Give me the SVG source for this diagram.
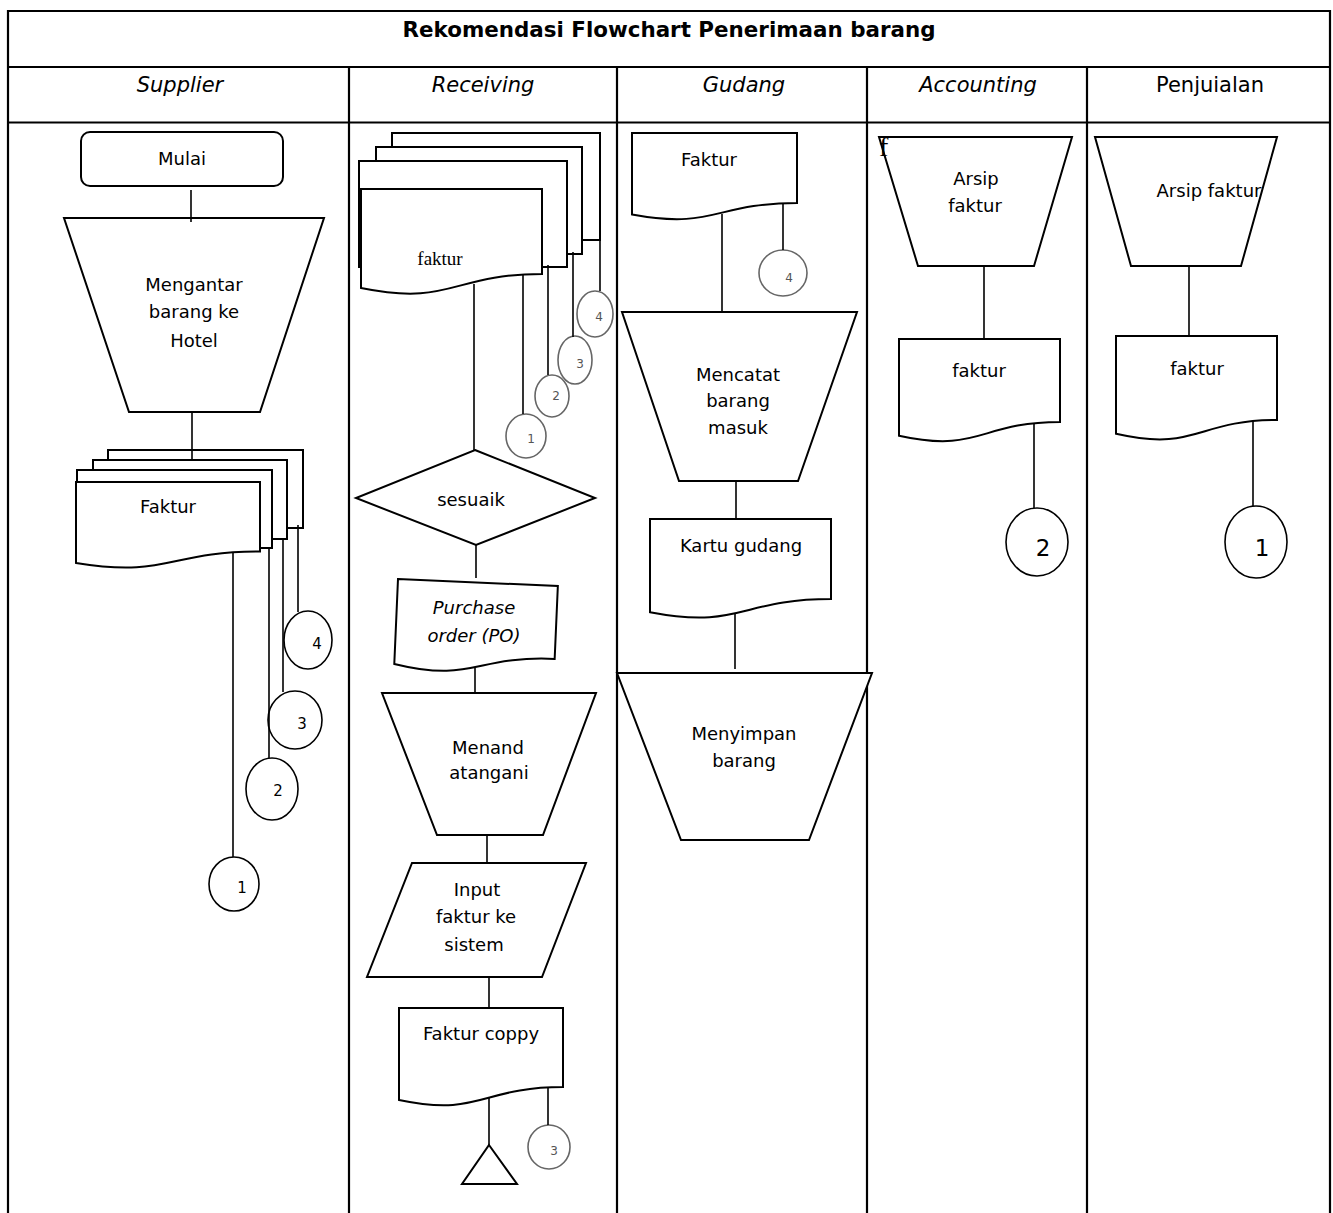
<svg xmlns="http://www.w3.org/2000/svg" width="1333" height="1213" viewBox="0 0 1333 1213">
<style>
text{font-family:"DejaVu Sans","Verdana",sans-serif;fill:#000}
.t{font-size:18px;text-anchor:middle}
.h{font-size:21px;text-anchor:middle}
.i{font-style:italic}
.grid{stroke:#000;stroke-width:2.2;fill:none}
.s{fill:#fff;stroke:#000;stroke-width:2}
.c{stroke:#000;stroke-width:1.6;fill:none}
.ck{fill:#fff;stroke:#000;stroke-width:1.6}
.cg{fill:#fff;stroke:#666;stroke-width:1.6}
.ng{font-size:12px;fill:#555;text-anchor:middle}
.nk{font-size:15px;text-anchor:middle}
.nb{font-size:23px;text-anchor:middle}
.serif{font-family:"Liberation Serif","Times New Roman",serif}
</style>

<g id="table">
  <path class="grid" d="M8,1213 V11 H1330 V1213"/>
  <line class="grid" x1="8" y1="67" x2="1330" y2="67"/>
  <line class="grid" x1="8" y1="122.5" x2="1330" y2="122.5"/>
  <line class="grid" x1="349" y1="67" x2="349" y2="1213"/>
  <line class="grid" x1="617" y1="67" x2="617" y2="1213"/>
  <line class="grid" x1="867" y1="67" x2="867" y2="1213"/>
  <line class="grid" x1="1087" y1="67" x2="1087" y2="1213"/>
  <text x="669" y="37" font-size="21.5" font-weight="bold" text-anchor="middle" textLength="533" lengthAdjust="spacingAndGlyphs">Rekomendasi Flowchart Penerimaan barang</text>
  <text class="h i" x="180" y="92">Supplier</text>
  <text class="h i" x="483" y="92">Receiving</text>
  <text class="h i" x="744" y="92">Gudang</text>
  <text class="h i" x="978" y="92">Accounting</text>
  <text class="h" x="1210" y="92">Penjuialan</text>
</g>

<!-- Supplier column -->
<g id="mulai">
  <rect class="s" x="81" y="132" width="202" height="54" rx="9"/>
  <text class="t" x="182" y="165">Mulai</text>
</g>
<g id="mengantar">
  <path class="s" d="M64,218 H324 L260,412 H129 Z"/>
  <text class="t" x="194" y="291">Mengantar</text>
  <text class="t" x="194" y="318">barang ke</text>
  <text class="t" x="194" y="347">Hotel</text>
</g>
<g id="faktur-supplier">
  <rect class="s" x="108" y="450" width="195" height="78"/>
  <rect class="s" x="93" y="460" width="194" height="79"/>
  <rect class="s" x="77" y="470" width="195" height="78"/>
  <path class="s" d="M76,482 H260 V551.5 C168,551.5 168,578 76,563 Z"/>
  <text class="t" x="168" y="513">Faktur</text>
</g>
<g id="sup-c1"><ellipse class="ck" cx="234" cy="884" rx="25" ry="27"/><text class="nk" x="242" y="893">1</text></g>
<g id="sup-c2"><ellipse class="ck" cx="272" cy="789" rx="26" ry="31"/><text class="nk" x="278" y="796">2</text></g>
<g id="sup-c3"><ellipse class="ck" cx="295" cy="720" rx="27" ry="29"/><text class="nk" x="302" y="729">3</text></g>
<g id="sup-c4"><ellipse class="ck" cx="308" cy="640" rx="24" ry="29"/><text class="nk" x="317" y="649">4</text></g>

<!-- Receiving column -->
<g id="faktur-receiving">
  <rect class="s" x="392" y="133" width="208" height="107"/>
  <rect class="s" x="376" y="147" width="206" height="107"/>
  <rect class="s" x="359" y="161" width="208" height="106"/>
  <path class="s" d="M361,189 H542 V274 C451.5,274 451.5,306.4 361,288 Z"/>
  <text class="serif" x="440" y="265" font-size="19" text-anchor="middle">faktur</text>
</g>
<g id="rec-c1"><ellipse class="cg" cx="526" cy="436" rx="20" ry="22"/><text class="ng" x="531" y="443">1</text></g>
<g id="rec-c2"><ellipse class="cg" cx="552" cy="396" rx="17" ry="21"/><text class="ng" x="556" y="400">2</text></g>
<g id="rec-c3"><ellipse class="cg" cx="575" cy="360" rx="17" ry="24"/><text class="ng" x="580" y="368">3</text></g>
<g id="rec-c4"><ellipse class="cg" cx="595" cy="314" rx="18" ry="23"/><text class="ng" x="599" y="321">4</text></g>
<g id="sesuaik">
  <path class="s" d="M475,450 L595,498 L476,545 L356,498 Z"/>
  <text class="t" x="471" y="506">sesuaik</text>
</g>
<g id="po">
  <path class="s" transform="translate(398,579) rotate(2.5)" d="M0,0 H160 V73 C80,73 80,101 0,85 Z"/>
  <text class="t i" x="474" y="614">Purchase</text>
  <text class="t i" x="474" y="642">order (PO)</text>
</g>
<g id="menandatangani">
  <path class="s" d="M382,693 H596 L543,835 H437 Z"/>
  <text class="t" x="488" y="754">Menand</text>
  <text class="t" x="489" y="779">atangani</text>
</g>
<g id="input">
  <path class="s" d="M412,863 H586 L542,977 H367 Z"/>
  <text class="t" x="477" y="896">Input</text>
  <text class="t" x="476" y="923">faktur ke</text>
  <text class="t" x="474" y="951">sistem</text>
</g>
<g id="faktur-coppy">
  <path class="s" d="M399,1008 H563 V1087 C481,1087 481,1117.1 399,1100 Z"/>
  <text class="t" x="481" y="1040">Faktur coppy</text>
</g>
<g id="arsip-triangle">
  <path class="s" d="M489,1145 L517,1184 H462 Z"/>
</g>
<g id="rec-c3b"><ellipse class="cg" cx="549" cy="1147" rx="21" ry="22"/><text class="ng" x="554" y="1155" font-size="11">3</text></g>

<!-- Gudang column -->
<g id="faktur-gudang">
  <path class="s" d="M632,133 H797 V203 C714.5,203 714.5,229.7 632,214.5 Z"/>
  <text class="t" x="709" y="166">Faktur</text>
</g>
<g id="gud-c4"><ellipse class="cg" cx="783" cy="273" rx="24" ry="23"/><text class="ng" x="789" y="282" font-size="11">4</text></g>
<g id="mencatat">
  <path class="s" d="M622,312 H857 L798,481 H679 Z"/>
  <text class="t" x="738" y="381">Mencatat</text>
  <text class="t" x="738" y="407">barang</text>
  <text class="t" x="738" y="434">masuk</text>
</g>
<g id="kartu-gudang">
  <path class="s" d="M650,519 H831 V599 C740.5,599 740.5,629.5 650,612.2 Z"/>
  <text class="t" x="741" y="552">Kartu gudang</text>
</g>
<g id="menyimpan">
  <path class="s" d="M617,673 H872 L809,840 H681 Z"/>
  <text class="t" x="744" y="740">Menyimpan</text>
  <text class="t" x="744" y="767">barang</text>
</g>

<!-- Accounting column -->
<g id="arsip-accounting">
  <path class="s" d="M879,137 H1072 L1034,266 H918 Z"/>
  <text class="serif" x="879" y="156" font-size="28">f</text>
  <text class="t" x="976" y="185">Arsip</text>
  <text class="t" x="975" y="212">faktur</text>
</g>
<g id="faktur-accounting">
  <path class="s" d="M899,339 H1060 V422 C979.5,422 979.5,453.6 899,435.7 Z"/>
  <text class="t" x="979" y="377">faktur</text>
</g>
<g id="acc-c2"><ellipse class="ck" cx="1037" cy="542" rx="31" ry="34"/><text class="nb" x="1043" y="556">2</text></g>

<!-- Penjualan column -->
<g id="arsip-penjualan">
  <path class="s" d="M1095,137 H1277 L1241,266 H1131 Z"/>
  <text class="t" x="1209" y="197">Arsip faktur</text>
</g>
<g id="faktur-penjualan">
  <path class="s" d="M1116,336 H1277 V420 C1196.5,420 1196.5,452 1116,433.8 Z"/>
  <text class="t" x="1197" y="375">faktur</text>
</g>
<g id="pen-c1"><ellipse class="ck" cx="1256" cy="542" rx="31" ry="36"/><text class="nb" x="1262" y="556">1</text></g>

<g id="connectors">
  <line class="c" x1="191" y1="190" x2="191" y2="222"/>
  <line class="c" x1="192" y1="412" x2="192" y2="459"/>
  <line class="c" x1="233" y1="552" x2="233" y2="857"/>
  <line class="c" x1="269" y1="548" x2="269" y2="758"/>
  <line class="c" x1="283" y1="539" x2="283" y2="692"/>
  <line class="c" x1="298" y1="525" x2="298" y2="612"/>

  <line class="c" x1="474" y1="284" x2="474" y2="450"/>
  <line class="c" x1="523" y1="274" x2="523" y2="414"/>
  <line class="c" x1="548" y1="265" x2="548" y2="375"/>
  <line class="c" x1="573" y1="252" x2="573" y2="337"/>
  <line class="c" x1="600" y1="240" x2="600" y2="291"/>
  <line class="c" x1="476" y1="545" x2="476" y2="578"/>
  <line class="c" x1="475" y1="668" x2="475" y2="693"/>
  <line class="c" x1="487" y1="835" x2="487" y2="863"/>
  <line class="c" x1="489" y1="977" x2="489" y2="1008"/>
  <line class="c" x1="489" y1="1097" x2="489" y2="1145"/>
  <line class="c" x1="548" y1="1087" x2="548" y2="1125"/>

  <line class="c" x1="722" y1="214" x2="722" y2="312"/>
  <line class="c" x1="783" y1="203" x2="783" y2="250"/>
  <line class="c" x1="736" y1="481" x2="736" y2="519"/>
  <line class="c" x1="735" y1="614" x2="735" y2="669"/>

  <line class="c" x1="984" y1="266" x2="984" y2="340"/>
  <line class="c" x1="1034" y1="423" x2="1034" y2="508"/>
  <line class="c" x1="1189" y1="266" x2="1189" y2="336"/>
  <line class="c" x1="1253" y1="421" x2="1253" y2="506"/>
</g>
</svg>
